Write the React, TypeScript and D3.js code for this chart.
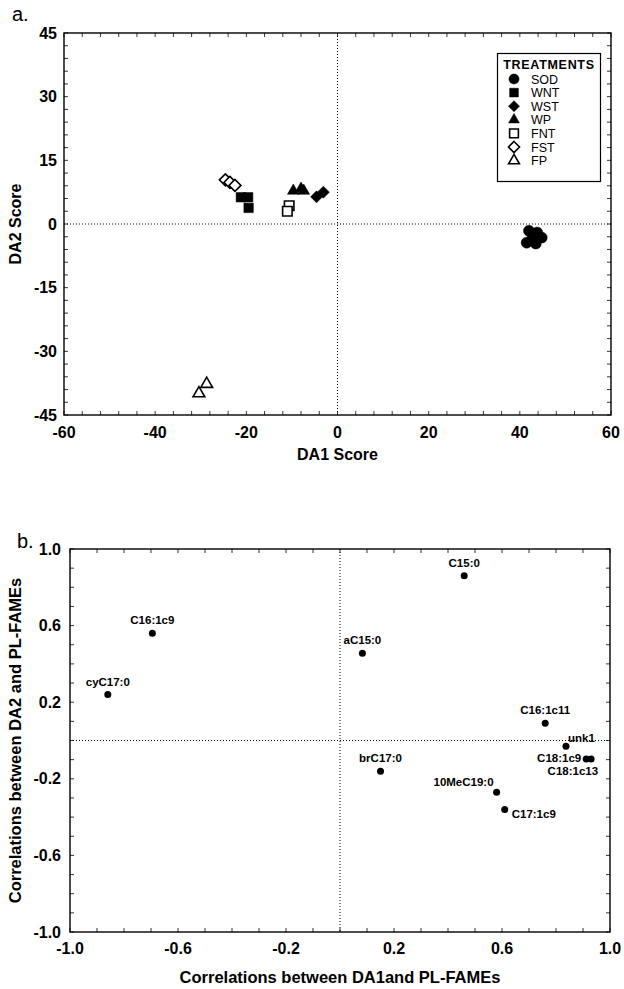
import React from 'react';
import * as d3 from 'd3';

// ---------- Panel a data ----------
const treatments = ['SOD', 'WNT', 'WST', 'WP', 'FNT', 'FST', 'FP'];
const sodX = [42.0, 43.8, 44.8, 41.5, 43.5, 42.8];
const sodY = [-1.6, -2.0, -3.2, -4.4, -4.6, -3.3];
const wntX = [-21.2, -19.6, -19.5];
const wntY = [6.3, 6.3, 3.8];
const wstX = [-4.6, -3.1];
const wstY = [6.4, 7.5];
const wpX = [-9.7, -8.0, -7.4];
const wpY = [7.8, 8.3, 7.8];
const fntX = [-10.6, -11.0];
const fntY = [4.3, 3.0];
const fstX = [-24.6, -23.6, -22.5];
const fstY = [10.4, 9.8, 9.1];
const fpX = [-30.4, -28.7];
const fpY = [-39.9, -37.7];
const aXTicks = [-60, -40, -20, 0, 20, 40, 60];
const aYTicks = [45, 30, 15, 0, -15, -30, -45];

// ---------- Panel b data ----------
const fames = ['C15:0', 'C16:1c9', 'aC15:0', 'cyC17:0', 'C16:1c11', 'unk1', 'C18:1c9', 'C18:1c13', 'brC17:0', '10MeC19:0', 'C17:1c9'];
const corrDA1 = [0.46, -0.695, 0.083, -0.86, 0.76, 0.837, 0.912, 0.93, 0.15, 0.58, 0.61];
const corrDA2 = [0.86, 0.56, 0.455, 0.24, 0.09, -0.03, -0.097, -0.097, -0.16, -0.27, -0.36];
const bTicks = [-1.0, -0.6, -0.2, 0.2, 0.6, 1.0];

const FONT = 'Liberation Sans, Arial, Helvetica, sans-serif';

type Kind = 'circle' | 'square' | 'diamond' | 'triangle';
const styleOf: Record<string, { kind: Kind; filled: boolean }> = {
  SOD: { kind: 'circle', filled: true },
  WNT: { kind: 'square', filled: true },
  WST: { kind: 'diamond', filled: true },
  WP: { kind: 'triangle', filled: true },
  FNT: { kind: 'square', filled: false },
  FST: { kind: 'diamond', filled: false },
  FP: { kind: 'triangle', filled: false },
};

const symPath = (kind: Kind, scale = 1) => {
  if (kind === 'circle') return d3.symbol(d3.symbolCircle, 95 * scale)()!;
  if (kind === 'square') return d3.symbol(d3.symbolSquare, 90 * scale)()!;
  if (kind === 'triangle') return d3.symbol(d3.symbolTriangle, 60 * scale)()!;
  const h = 6 * Math.sqrt(scale);
  return `M0,${-h}L${h},0L0,${h}L${-h},0Z`;
};

function Marker({ name, x, y, scale = 1 }: { name: string; x: number; y: number; scale?: number }) {
  const s = styleOf[name];
  return (
    <path
      d={symPath(s.kind, scale)}
      transform={`translate(${x},${y})`}
      fill={s.filled ? '#000' : '#fff'}
      stroke="#000"
      strokeWidth={s.filled ? 0.5 : 1.6}
    />
  );
}

export default function App() {
  // Panel a geometry
  const aL = 64, aR = 611, aT = 33, aB = 415;
  const ax = d3.scaleLinear().domain([-60, 60]).range([aL, aR]);
  const ay = d3.scaleLinear().domain([-45, 45]).range([aB, aT]);
  const aMinorX = d3.range(-60, 60.01, 4);
  const aMinorY = d3.range(-45, 45.01, 3);

  const series: [string, number[], number[]][] = [
    ['FST', fstX, fstY],
    ['WNT', wntX, wntY],
    ['FNT', fntX, fntY],
    ['WP', wpX, wpY],
    ['WST', wstX, wstY],
    ['SOD', sodX, sodY],
    ['FP', fpX, fpY],
  ];

  // Panel b geometry
  const bL = 70, bR = 610, bT = 549, bB = 932;
  const bx = d3.scaleLinear().domain([-1, 1]).range([bL, bR]);
  const by = d3.scaleLinear().domain([-1, 1]).range([bB, bT]);
  const bMinor = d3.range(-1, 1.001, 0.1);

  const tickLen = 4;

  const labelPos = (name: string, px: number, py: number) => {
    switch (name) {
      case 'unk1':
        return { x: px + 2, y: py - 4, anchor: 'start' };
      case 'C18:1c9':
        return { x: px - 5, y: py + 3, anchor: 'end' };
      case 'C18:1c13':
        return { x: px + 7, y: py + 16, anchor: 'end' };
      case '10MeC19:0':
        return { x: px - 3, y: py - 6, anchor: 'end' };
      case 'C17:1c9':
        return { x: px + 7, y: py + 9, anchor: 'start' };
      default:
        return { x: px, y: py - 9, anchor: 'middle' };
    }
  };

  return (
    <svg
      width={624}
      height={989}
      style={{ position: 'absolute', left: 0, top: 0, background: '#fff' }}
      fontFamily={FONT}
    >
      <rect x={0} y={0} width={624} height={989} fill="#fff" />

      {/* ================= Panel a ================= */}
      <text x={12} y={21} fontSize={20}>a.</text>

      <line x1={ax(0)} x2={ax(0)} y1={aT} y2={aB} stroke="#000" strokeWidth={1} strokeDasharray="1,2" />
      <line x1={aL} x2={aR} y1={ay(0)} y2={ay(0)} stroke="#000" strokeWidth={1} strokeDasharray="1,2" />

      {aMinorX.map((v) => (
        <g key={'ax' + v}>
          <line x1={ax(v)} x2={ax(v)} y1={aB} y2={aB - tickLen} stroke="#000" strokeWidth={0.8} />
          <line x1={ax(v)} x2={ax(v)} y1={aT} y2={aT + tickLen} stroke="#000" strokeWidth={0.8} />
        </g>
      ))}
      {aMinorY.map((v) => (
        <g key={'ay' + v}>
          <line x1={aL} x2={aL + tickLen} y1={ay(v)} y2={ay(v)} stroke="#000" strokeWidth={0.8} />
          <line x1={aR} x2={aR - tickLen} y1={ay(v)} y2={ay(v)} stroke="#000" strokeWidth={0.8} />
        </g>
      ))}
      <rect x={aL} y={aT} width={aR - aL} height={aB - aT} fill="none" stroke="#000" strokeWidth={1.4} />

      {aXTicks.map((v) => (
        <text key={'axl' + v} x={ax(v)} y={438} fontSize={16} fontWeight="bold" textAnchor="middle">
          {v}
        </text>
      ))}
      {aYTicks.map((v) => (
        <text key={'ayl' + v} x={57} y={ay(v) + 5.5} fontSize={16} fontWeight="bold" textAnchor="end">
          {v}
        </text>
      ))}
      <text x={(aL + aR) / 2} y={460} fontSize={16} fontWeight="bold" textAnchor="middle">DA1 Score</text>
      <text
        transform={`translate(21,${(aT + aB) / 2}) rotate(-90)`}
        fontSize={16}
        fontWeight="bold"
        textAnchor="middle"
      >
        DA2 Score
      </text>

      {series.map(([name, xs, ys]) =>
        xs.map((v, i) => <Marker key={name + i} name={name} x={ax(v)} y={ay(ys[i])} />)
      )}

      {/* legend */}
      <rect x={497.5} y={53.5} width={103} height={128} fill="#fff" stroke="#000" strokeWidth={1.2} />
      <text x={549} y={68.5} fontSize={12.5} fontWeight="bold" textAnchor="middle" letterSpacing={0.7}>
        TREATMENTS
      </text>
      {treatments.map((t, i) => {
        const yy = 79 + i * 13.6;
        return (
          <g key={'lg' + t}>
            <Marker name={t} x={514} y={yy} scale={0.85} />
            <text x={531} y={yy + 4.5} fontSize={12.5}>{t}</text>
          </g>
        );
      })}

      {/* ================= Panel b ================= */}
      <text x={17} y={548} fontSize={20}>b.</text>

      <line x1={bx(0)} x2={bx(0)} y1={bT} y2={bB} stroke="#000" strokeWidth={1} strokeDasharray="1,2" />
      <line x1={bL} x2={bR} y1={by(0)} y2={by(0)} stroke="#000" strokeWidth={1} strokeDasharray="1,2" />

      {bMinor.map((v, i) => (
        <g key={'bm' + i}>
          <line x1={bx(v)} x2={bx(v)} y1={bB} y2={bB - tickLen} stroke="#000" strokeWidth={0.8} />
          <line x1={bx(v)} x2={bx(v)} y1={bT} y2={bT + tickLen} stroke="#000" strokeWidth={0.8} />
          <line x1={bL} x2={bL + tickLen} y1={by(v)} y2={by(v)} stroke="#000" strokeWidth={0.8} />
          <line x1={bR} x2={bR - tickLen} y1={by(v)} y2={by(v)} stroke="#000" strokeWidth={0.8} />
        </g>
      ))}
      <rect x={bL} y={bT} width={bR - bL} height={bB - bT} fill="none" stroke="#000" strokeWidth={1.4} />

      {bTicks.map((v) => (
        <text key={'bxl' + v} x={bx(v)} y={954} fontSize={16} fontWeight="bold" textAnchor="middle">
          {v.toFixed(1)}
        </text>
      ))}
      {bTicks.map((v) => (
        <text key={'byl' + v} x={61} y={by(v) + 5.5} fontSize={16} fontWeight="bold" textAnchor="end">
          {v.toFixed(1)}
        </text>
      ))}
      <text x={(bL + bR) / 2} y={983} fontSize={16.5} fontWeight="bold" textAnchor="middle">
        Correlations between DA1and PL-FAMEs
      </text>
      <text
        transform={`translate(21,${(bT + bB) / 2}) rotate(-90)`}
        fontSize={16.5}
        fontWeight="bold"
        textAnchor="middle"
      >
        Correlations between DA2 and PL-FAMEs
      </text>

      {fames.map((f, i) => {
        const px = bx(corrDA1[i]);
        const py = by(corrDA2[i]);
        const lp = labelPos(f, px, py);
        return (
          <g key={'f' + f}>
            <circle cx={px} cy={py} r={3.5} fill="#000" />
            <text x={lp.x} y={lp.y} fontSize={11.5} fontWeight="bold" textAnchor={lp.anchor as any}>
              {f}
            </text>
          </g>
        );
      })}
    </svg>
  );
}
